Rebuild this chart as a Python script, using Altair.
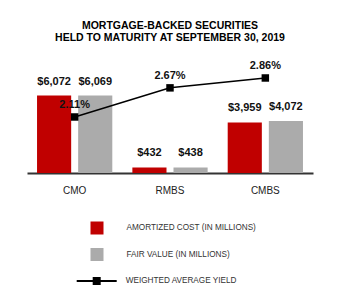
import altair as alt
import pandas as pd

categories = ["CMO", "RMBS", "CMBS"]
series = ["AMORTIZED COST (IN MILLIONS)", "FAIR VALUE (IN MILLIONS)"]
amortized_cost = [6072, 432, 3959]
fair_value = [6069, 438, 4072]
yield_name = "WEIGHTED AVERAGE YIELD"
yields = [2.11, 2.67, 2.86]
title_lines = ["MORTGAGE-BACKED SECURITIES", "HELD TO MATURITY AT SEPTEMBER 30, 2019"]

RED = "#C00000"
GRAY = "#ABABAB"
FONT = "Liberation Sans"

bar_rows = []
for c, a, f in zip(categories, amortized_cost, fair_value):
    bar_rows.append({"category": c, "series": series[0], "value": a})
    bar_rows.append({"category": c, "series": series[1], "value": f})
bar_df = pd.DataFrame(bar_rows)
yield_df = pd.DataFrame({"category": categories, "yield": yields, "metric": [yield_name] * 3})

x_enc = alt.X(
    "category:N",
    sort=categories,
    scale=alt.Scale(paddingInner=0, paddingOuter=0),
    axis=alt.Axis(
        title=None, ticks=False, tickSize=0, labelAngle=0, labelPadding=12,
        labelFontSize=10, labelFont=FONT, labelColor="#222222",
        domainColor="#333333", domainWidth=2, grid=False,
    ),
)
xoff = alt.XOffset("series:N", sort=series, scale=alt.Scale(paddingInner=0.17, paddingOuter=0.244))
y_bar = alt.Y("value:Q", scale=alt.Scale(domain=[0, 9640], nice=False, zero=True), axis=None)
y_yield = alt.Y("yield:Q", scale=alt.Scale(domain=[1.033, 3.398], nice=False, zero=False), axis=None)

bars = alt.Chart(bar_df).mark_bar(opacity=1).encode(
    x=x_enc,
    xOffset=xoff,
    y=y_bar,
    fill=alt.Fill(
        "series:N",
        scale=alt.Scale(domain=series, range=[RED, GRAY]),
        legend=alt.Legend(
            title=None, orient="none", legendX=63.5, legendY=171.5,
            symbolType="square", symbolSize=169, symbolStrokeWidth=0,
            labelFontSize=8.2, labelFont=FONT, labelColor="#333333",
            labelOffset=23, rowPadding=13.5, padding=0, labelLimit=400,
        ),
    ),
)

bar_text = alt.Chart(bar_df).mark_text(
    baseline="middle", dy=-14, fontSize=11, fontWeight="bold", font=FONT, color="#111111"
).encode(
    x=alt.X("category:N", sort=categories),
    xOffset=xoff,
    y=y_bar,
    text=alt.Text("value:Q", format="$,.0f"),
)

line = alt.Chart(yield_df).mark_line(color="black", strokeWidth=1.5).encode(
    x=alt.X("category:N", sort=categories),
    y=y_yield,
)

LEGEND_LINE = "M-1,-0.05H1V0.05H-1Z M-0.2,-0.2H0.2V0.2H-0.2Z"
points = alt.Chart(yield_df).mark_square(size=56, opacity=1).encode(
    x=alt.X("category:N", sort=categories),
    y=y_yield,
    fill=alt.Fill(
        "metric:N",
        scale=alt.Scale(domain=[yield_name], range=["black"]),
        legend=alt.Legend(
            title=None, orient="none", legendX=49.7, legendY=211,
            symbolType=LEGEND_LINE, symbolSize=1600, symbolStrokeWidth=0,
            labelFontSize=8.2, labelFont=FONT, labelColor="#333333",
            labelOffset=9, padding=0, labelLimit=400,
        ),
    ),
)

yield_text = alt.Chart(yield_df).transform_calculate(
    label="format(datum.yield, '.2f') + '%'"
).mark_text(
    baseline="middle", dy=-12, fontSize=11, fontWeight="bold", font=FONT, color="#111111"
).encode(
    x=alt.X("category:N", sort=categories),
    y=y_yield,
    text="label:N",
)

chart = alt.layer(bars, bar_text, line, points, yield_text).resolve_scale(
    y="independent", fill="independent"
).properties(
    width=286,
    height=123,
    autosize=alt.AutoSizeParams(type="none"),
    padding={"left": 27, "top": 50, "right": 27, "bottom": 127},
    title=alt.TitleParams(
        title_lines, fontSize=10.5, font=FONT, fontWeight="bold", color="black",
        anchor="middle", lineHeight=12, offset=7,
    ),
).configure_view(strokeWidth=0)

chart.save("out.html", embed_options={"renderer": "svg", "actions": False})
